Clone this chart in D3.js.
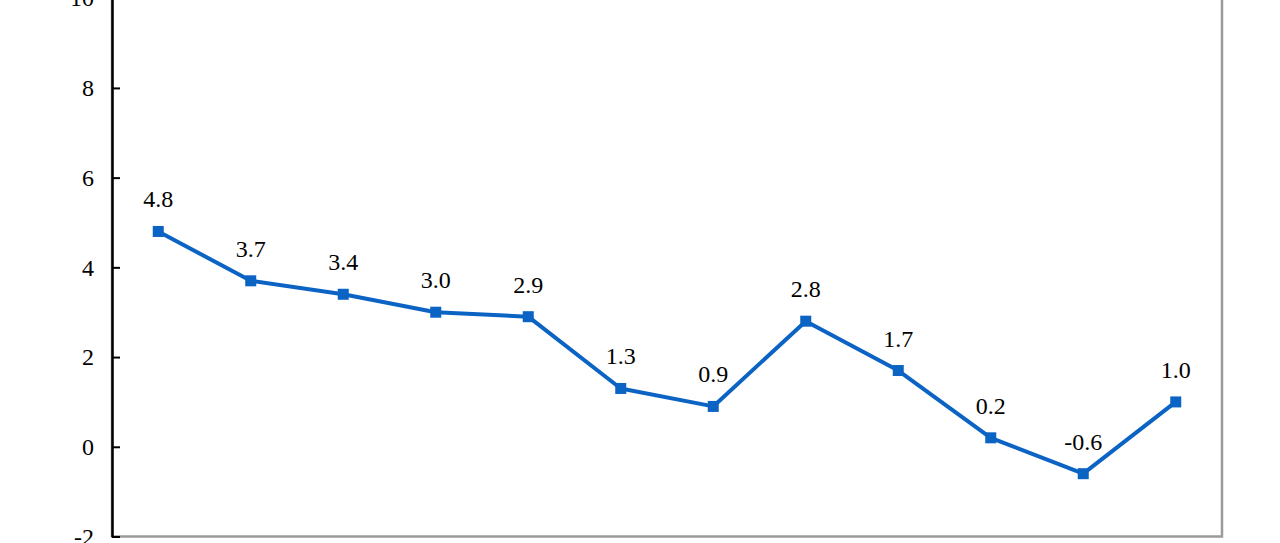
<!DOCTYPE html>
<html><head><meta charset="utf-8">
<script src="https://cdn.jsdelivr.net/npm/d3@7"></script>
<style>body{margin:0;background:#fff;}svg{display:block;}</style>
</head><body>
<svg id="c" width="1280" height="543"></svg>
<script>
const categories = ["1","2","3","4","5","6","7","8","9","10","11","12"];
const values = [4.8, 3.7, 3.4, 3.0, 2.9, 1.3, 0.9, 2.8, 1.7, 0.2, -0.6, 1.0];
const yTicks = [-2, 0, 2, 4, 6, 8, 10];

const svg = d3.select("#c");
const L = 112, R = 1222, T = -1.8, B = 536.5;
const x = d3.scaleBand().domain(categories).range([L, R]);
const y = d3.scaleLinear().domain([-2, 10]).range([B, T]);
const cx = d => x(d) + x.bandwidth() / 2;

// frame
svg.append("rect").attr("x", L).attr("y", T - 5).attr("width", R - L).attr("height", B - T + 5)
  .attr("fill", "none").attr("stroke", "#9a9a9a").attr("stroke-width", 2.5);

// y axis
const ax = svg.append("g").attr("transform", `translate(${L},0)`)
  .call(d3.axisLeft(y).tickValues(yTicks).tickSizeInner(-8).tickSizeOuter(0).tickPadding(18)
    .tickFormat(d => String(d)));
ax.select(".domain").attr("stroke", "#000").attr("stroke-width", 2.5);
ax.selectAll(".tick line").attr("stroke", "#000").attr("stroke-width", 2);
ax.selectAll(".tick text").attr("font-family", "Liberation Serif").attr("font-size", 24).attr("fill", "#000");

const line = d3.line().x((d, i) => cx(categories[i])).y(d => y(d));
svg.append("path").datum(values).attr("d", line).attr("fill", "none")
  .attr("stroke", "#0b63c4").attr("stroke-width", 4).attr("stroke-linejoin", "round");

const ms = 11;
svg.selectAll("rect.m").data(values).enter().append("rect").attr("class", "m")
  .attr("x", (d, i) => cx(categories[i]) - ms / 2).attr("y", d => y(d) - ms / 2)
  .attr("width", ms).attr("height", ms).attr("fill", "#0b63c4");

svg.selectAll("text.lbl").data(values).enter().append("text").attr("class", "lbl")
  .attr("x", (d, i) => cx(categories[i])).attr("y", d => y(d) - 24)
  .attr("text-anchor", "middle").attr("font-family", "Liberation Serif").attr("font-size", 24)
  .attr("fill", "#000").text(d => d.toFixed(1));
</script>
</body></html>
